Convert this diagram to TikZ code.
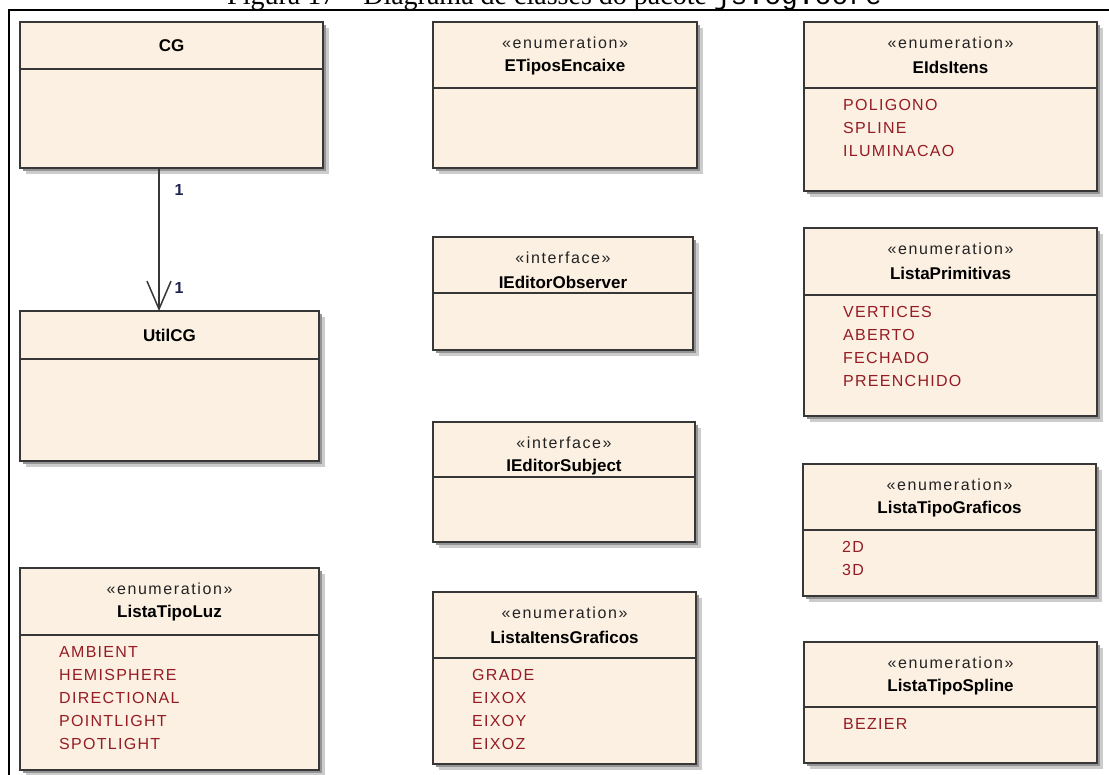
\documentclass[tikz,border=0pt]{standalone}
\usepackage{fontspec}
\setmainfont{Liberation Sans}
\newfontfamily\stereofont[LetterSpace=10]{Liberation Sans}
\newfontfamily\literalfont[LetterSpace=8]{Liberation Sans}
\newfontfamily\captionserif{Liberation Serif}
\newfontfamily\captionmono{Liberation Mono}
\usetikzlibrary{arrows.meta}

\definecolor{classfill}{RGB}{251,240,226}
\definecolor{classline}{RGB}{55,55,55}
\definecolor{literal}{RGB}{150,28,36}
\definecolor{multi}{RGB}{30,35,80}
\definecolor{stereo}{RGB}{35,35,35}

\tikzset{
  classbox/.style={draw=classline, fill=classfill, line width=1.6pt,
    inner sep=0pt, outer sep=0pt, anchor=north west},
  shadowfar/.style={fill=black!20},
  shadownear/.style={fill=black!42},
  divider/.style={draw=classline, line width=1.6pt},
  stereotext/.style={font=\stereofont\fontsize{16}{18}\selectfont, text=stereo, inner sep=0pt},
  nametext/.style={font=\bfseries\fontsize{17}{19}\selectfont, inner sep=0pt},
  literaltext/.style={font=\literalfont\fontsize{16}{18}\selectfont, text=literal,
    inner sep=0pt, anchor=west},
  multtext/.style={font=\bfseries\fontsize{16}{18}\selectfont, text=multi, inner sep=0pt},
  assoc/.style={draw=classline, line width=1.5pt,
    -{Straight Barb[length=28pt,width=24pt]}},
}

% #1 id, #2 left, #3 top, #4 right, #5 bottom, #6 divider y, #7 stereotype, #8 name
\newcommand{\umlclass}[8]{%
  \fill[shadowfar] (#2+6,#3+6) rectangle (#4+6,#5+6);
  \fill[shadownear] (#2+3,#3+3) rectangle (#4+3,#5+3);
  \node[classbox, minimum width={(#4-#2)*1pt}, minimum height={(#5-#3)*1pt}]
    (#1) at (#2,#3) {};
  \draw[divider] (#2,#6) -- (#4,#6);
  \if\relax\detokenize{#7}\relax
    \node[nametext] (#1-name) at ({(#2+#4)/2},{(#3+#6)/2}) {#8};
  \else
    \node[stereotext] (#1-st) at ({(#2+#4)/2},#3+21) {«#7»};
    \node[nametext] (#1-name) at ({(#2+#4)/2},#3+45) {#8};
  \fi
}

% #1 id, #2 left, #3 divider y, #4 list of literals
\newcommand{\umlliterals}[4]{%
  \foreach \lit [count=\k from 0] in {#4} {
    \node[literaltext] (#1-lit\k) at (#2+39,#3+17+23*\k) {\lit};
  }
}

\begin{document}
\begin{tikzpicture}[x=1pt, y=-1pt]
  \useasboundingbox (0,0) rectangle (1109,775);
  \fill[white] (0,0) rectangle (1109,775);

  % figure caption, mostly above the page edge
  \node[anchor=base west, inner sep=0pt] (caption) at (227,5)
    {\captionserif\fontsize{28}{30}\selectfont Figura 17 – Diagrama de classes do pacote
     \captionmono js.cg.core};

  % frame of the package
  \draw[line width=2.6pt] (9,790) -- (9,10) -- (1120,10);

  % left column
  \umlclass{cg}{20}{22}{323}{168}{69}{}{CG}
  \umlclass{utilcg}{20}{311}{319}{461}{359}{}{UtilCG}
  \umlclass{lluz}{20}{568}{319}{770}{635}{enumeration}{ListaTipoLuz}
  \umlliterals{lluz}{20}{635}{AMBIENT,HEMISPHERE,DIRECTIONAL,POINTLIGHT,SPOTLIGHT}

  % middle column
  \umlclass{etipos}{433}{22}{697}{168}{88}{enumeration}{ETiposEncaixe}
  \umlclass{ieobs}{433}{237}{693}{350}{293}{interface}{IEditorObserver}
  \umlclass{iesub}{433}{422}{695}{542}{477}{interface}{IEditorSubject}
  \umlclass{litens}{433}{592}{696}{764}{658}{enumeration}{ListaItensGraficos}
  \umlliterals{litens}{433}{658}{GRADE,EIXOX,EIXOY,EIXOZ}

  % right column
  \umlclass{eids}{804}{22}{1097}{191}{88}{enumeration}{EIdsItens}
  \umlliterals{eids}{804}{88}{POLIGONO,SPLINE,ILUMINACAO}
  \umlclass{lprim}{804}{228}{1097}{416}{295}{enumeration}{ListaPrimitivas}
  \umlliterals{lprim}{804}{295}{VERTICES,ABERTO,FECHADO,PREENCHIDO}
  \umlclass{ltgraf}{803}{464}{1096}{596}{530}{enumeration}{ListaTipoGraficos}
  \umlliterals{ltgraf}{803}{530}{2D,3D}
  \umlclass{lspline}{804}{642}{1097}{763}{707}{enumeration}{ListaTipoSpline}
  \umlliterals{lspline}{804}{707}{BEZIER}

  % association CG -> UtilCG
  \draw[assoc] ([xshift=139pt]cg.south west) -- ([xshift=139pt]utilcg.north west);
  \node[multtext] (mult-src) at (179,190) {1};
  \node[multtext] (mult-dst) at (179,288) {1};
\end{tikzpicture}
\end{document}
